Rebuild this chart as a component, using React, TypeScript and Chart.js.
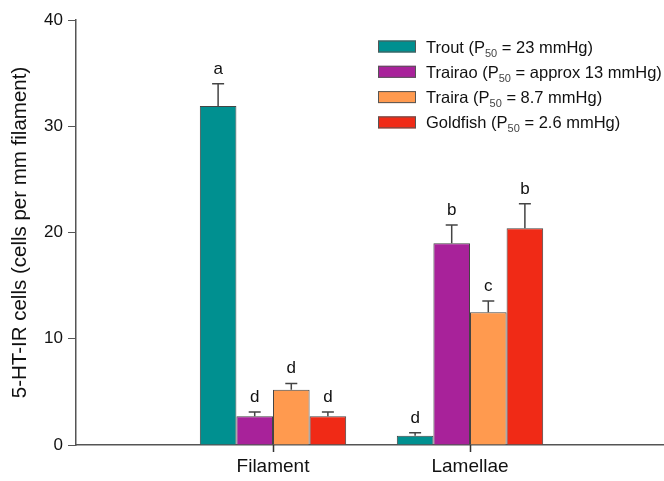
import React, { useEffect, useRef } from "react";
import { Chart, registerables } from "chart.js";

Chart.register(...registerables);

const categories = ["Filament", "Lamellae"];
const seriesNames = ["Trout", "Trairao", "Traira", "Goldfish"];
const seriesP50 = ["23 mmHg", "approx 13 mmHg", "8.7 mmHg", "2.6 mmHg"];
const seriesColors = ["#009090", "#A8229A", "#FF9A4F", "#F02A16"];
const troutValues = [31.9, 0.88];
const trairaoValues = [2.7, 19.0];
const trairaValues = [5.2, 12.5];
const goldfishValues = [2.7, 20.4];
const troutErrors = [2.1, 0.28];
const trairaoErrors = [0.4, 1.7];
const trairaErrors = [0.6, 1.05];
const goldfishErrors = [0.4, 2.3];
const troutLetters = ["a", "d"];
const trairaoLetters = ["d", "b"];
const trairaLetters = ["d", "c"];
const goldfishLetters = ["d", "b"];
const yTicks = [0, 10, 20, 30, 40];

const allValues = [troutValues, trairaoValues, trairaValues, goldfishValues];
const allErrors = [troutErrors, trairaoErrors, trairaErrors, goldfishErrors];
const allLetters = [troutLetters, trairaoLetters, trairaLetters, goldfishLetters];

const FONT = "'Liberation Sans', Arial, sans-serif";

const errorBarPlugin = {
  id: "errorBars",
  afterDatasetsDraw(chart: any) {
    const ctx = chart.ctx;
    const yScale = chart.scales.y;
    ctx.save();
    chart.data.datasets.forEach((ds: any, di: number) => {
      const meta = chart.getDatasetMeta(di);
      meta.data.forEach((bar: any, i: number) => {
        const v = allValues[di][i];
        const e = allErrors[di][i];
        const yTop = yScale.getPixelForValue(v);
        const yCap = yScale.getPixelForValue(v + e);
        ctx.strokeStyle = "#444";
        ctx.lineWidth = 1.5;
        ctx.beginPath();
        ctx.moveTo(bar.x, yTop);
        ctx.lineTo(bar.x, yCap);
        ctx.moveTo(bar.x - 6, yCap);
        ctx.lineTo(bar.x + 6, yCap);
        ctx.stroke();
        ctx.fillStyle = "#111";
        ctx.font = `17px ${FONT}`;
        ctx.textAlign = "center";
        ctx.textBaseline = "alphabetic";
        ctx.fillText(allLetters[di][i], bar.x, yCap - 10);
      });
    });
    ctx.restore();
  },
};

const xTickMarksPlugin = {
  id: "xTickMarks",
  afterDraw(chart: any) {
    const ctx = chart.ctx;
    const xs = chart.scales.x;
    const yBase = chart.chartArea.bottom;
    ctx.save();
    ctx.strokeStyle = "#333";
    ctx.lineWidth = 1.5;
    ctx.beginPath();
    categories.forEach((_, i) => {
      const px = Math.round(xs.getPixelForValue(i + 1)) + 0.5;
      ctx.moveTo(px, yBase);
      ctx.lineTo(px, yBase + 7);
    });
    ctx.stroke();
    ctx.restore();
  },
};

const legendPlugin = {
  id: "customLegend",
  afterDraw(chart: any) {
    const ctx = chart.ctx;
    ctx.save();
    const bx = 378;
    const by = 40.5;
    const step = 25.3;
    seriesNames.forEach((name, i) => {
      const top = by + i * step;
      ctx.fillStyle = seriesColors[i];
      ctx.fillRect(bx, top, 38, 12);
      ctx.strokeStyle = "#555";
      ctx.lineWidth = 1;
      ctx.strokeRect(bx + 0.5, top + 0.5, 37, 11);
      const baseY = top + 12;
      let x = 426;
      ctx.fillStyle = "#111";
      ctx.textAlign = "left";
      ctx.textBaseline = "alphabetic";
      ctx.font = `16.5px ${FONT}`;
      const t1 = `${name} (P`;
      ctx.fillText(t1, x, baseY);
      x += ctx.measureText(t1).width;
      ctx.font = `11px ${FONT}`;
      ctx.fillStyle = "#444";
      ctx.fillText("50", x, baseY + 4);
      x += ctx.measureText("50").width;
      ctx.font = `16.5px ${FONT}`;
      ctx.fillStyle = "#111";
      ctx.fillText(` = ${seriesP50[i]})`, x, baseY);
    });
    ctx.restore();
  },
};

export default function App() {
  const ref = useRef<HTMLCanvasElement | null>(null);
  useEffect(() => {
    if (!ref.current) return;
    const chart = new Chart(ref.current, {
      type: "bar",
      data: {
        datasets: seriesNames.map((name, di) => ({
          label: name,
          data: categories.map((_, i) => ({ x: i + 1, y: allValues[di][i] })),
          backgroundColor: seriesColors[di],
          borderColor: "#444",
          borderWidth: 1,
          categoryPercentage: 0.743,
          barPercentage: 1,
        })),
      },
      options: {
        responsive: false,
        animation: false,
        devicePixelRatio: 1,
        layout: { padding: { top: 20, right: 0, left: 0, bottom: 0 } },
        plugins: { legend: { display: false }, tooltip: { enabled: false } },
        scales: {
          x: {
            type: "linear",
            offset: false,
            min: 0,
            max: 588 / 197,
            afterBuildTicks: (scale: any) => {
              scale.ticks = categories.map((_, i) => ({ value: i + 1 }));
            },
            afterFit: (scale: any) => {
              scale.height = 36;
            },
            grid: {
              drawOnChartArea: false,
              offset: false,
              tickLength: 7,
              color: "#333",
            },
            border: { display: true, color: "#555", width: 1.5 },
            ticks: {
              callback: (v: any) => categories[Math.round(v) - 1] ?? "",
              font: { family: FONT, size: 19 },
              color: "#111",
              padding: 3,
              maxRotation: 0,
              autoSkip: false,
            },
          },
          y: {
            min: 0,
            max: 40,
            afterBuildTicks: (scale: any) => {
              scale.ticks = yTicks.map((v) => ({ value: v }));
            },
            afterFit: (scale: any) => {
              scale.width = 76;
            },
            grid: { drawOnChartArea: false, tickLength: 8, color: "#555" },
            border: { display: true, color: "#555", width: 1.5 },
            ticks: {
              font: { family: FONT, size: 17 },
              color: "#111",
              padding: 5,
            },
            title: {
              display: true,
              text: "5-HT-IR cells (cells per mm filament)",
              font: { family: FONT, size: 20.5 },
              color: "#111",
              padding: { top: 8, bottom: 0 },
            },
          },
        },
      },
      plugins: [errorBarPlugin, xTickMarksPlugin, legendPlugin],
    } as any);
    return () => chart.destroy();
  }, []);
  return (
    <div style={{ position: "fixed", left: 0, top: 0, width: 664, height: 481, background: "#fff" }}>
      <canvas ref={ref} width={664} height={481} />
    </div>
  );
}
